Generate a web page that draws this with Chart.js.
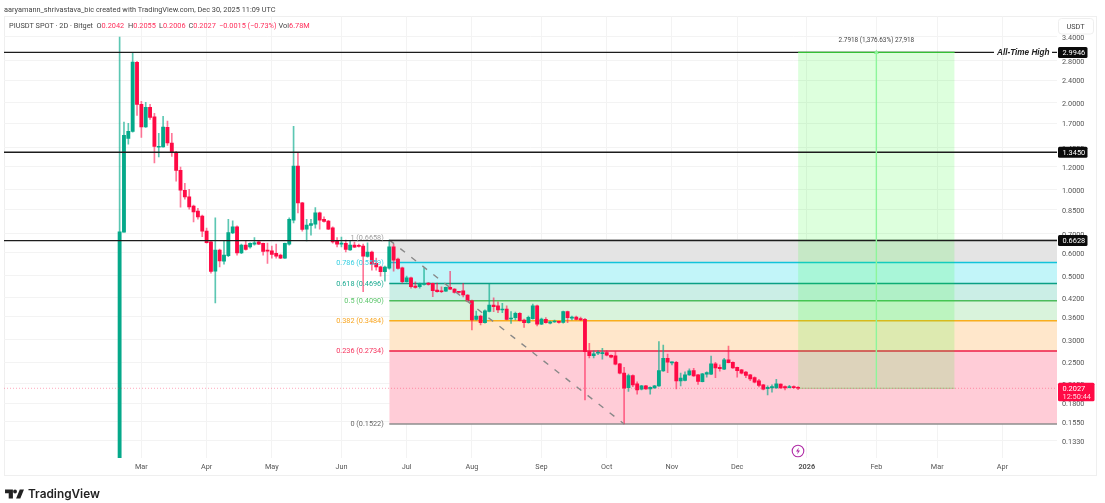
<!DOCTYPE html>
<html>
<head>
<meta charset="utf-8">
<title>PIUSDT</title>
<script src="https://cdn.jsdelivr.net/npm/chart.js@4/dist/chart.umd.min.js"></script>
<style>
    html, body { margin: 0; padding: 0; background: #fff; width: 1105px; height: 503px; overflow: hidden; }
    body { position: relative; font-family: Roboto, sans-serif; }
    canvas { position: absolute; left: 0; top: 0; }
    .panel { position: absolute; left: 4px; top: 16px; width: 1091px; height: 458px; border: 1px solid #efefef; }
    .txt { position: absolute; white-space: nowrap; font-size: 7.35px; line-height: 10px; color: #444; }
    .red { color: #ff2e5a; }
    .logo { position: absolute; left: 5px; top: 489px; }
    .logo-text { position: absolute; left: 28px; top: 485px; font: 600 11.8px/18px Inter, sans-serif; color: #222; }
    .bolt { position: absolute; left: 791px; top: 444px; }
</style>
</head>
<body>
<div class="panel"></div>
<canvas id="piChart" width="1105" height="503"></canvas>

<div class="txt" style="left:4px;top:4.5px">aaryamann_shrivastava_bic created with TradingView.com, Dec 30, 2025 11:09 UTC</div>
<div class="txt" style="left:9px;top:20.5px">PIUSDT SPOT · 2D · Bitget</div>
<div class="txt" style="left:96.5px;top:20.5px">O<span class="red">0.2042</span></div>
<div class="txt" style="left:128px;top:20.5px">H<span class="red">0.2055</span></div>
<div class="txt" style="left:159px;top:20.5px">L<span class="red">0.2006</span></div>
<div class="txt" style="left:188.5px;top:20.5px">C<span class="red">0.2027</span></div>
<div class="txt red" style="left:219px;top:20.5px">−0.0015 (−0.73%)</div>
<div class="txt" style="left:278.5px;top:20.5px">Vol<span class="red">6.78M</span></div>

<svg class="bolt" width="14" height="14" viewBox="0 0 14 14">
    <circle cx="7" cy="7" r="5.8" fill="#fff" stroke="#b02ca6" stroke-width="1.1"/>
    <path d="M7.8 3.6 5 7.6h1.9L6.2 10.4 9 6.4H7.1z" fill="#b02ca6"/>
</svg>

<svg class="logo" width="19" height="10" viewBox="0 0 36 19">
    <path d="M15 1H0v7h7v10h8zM29 18h-8L28 1h8zM19 8.5a3.7 3.7 0 1 0 0-7.4 3.7 3.7 0 0 0 0 7.4z" fill="#222"/>
</svg>
<div class="logo-text">TradingView</div>

<script>
    // Candles, 2 days each, oldest first
    const firstCandleDay = 49; // days since 1 Jan 2025
    const opens = [
        0.1, 0.7088, 1.504, 1.591, 2.764, 1.975, 1.647, 1.928, 1.786, 1.40,
        1.403, 1.644, 1.449, 1.345, 1.164, 0.992, 0.94, 0.873, 0.84, 0.807,
        0.715, 0.656, 0.5187, 0.6137, 0.562, 0.5875, 0.7048, 0.7395, 0.5997, 0.639,
        0.63, 0.6439, 0.656, 0.6475, 0.6137, 0.6103, 0.5978, 0.5897, 0.5755, 0.6439,
        0.78, 1.205, 0.896, 0.726, 0.7475, 0.7557, 0.827, 0.785, 0.774, 0.7336,
        0.6597, 0.6439, 0.6475, 0.615, 0.639, 0.6375, 0.6337, 0.583, 0.604, 0.5517,
        0.5369, 0.516, 0.5313, 0.63, 0.5711, 0.5326, 0.4762, 0.4917, 0.4604, 0.4575,
        0.4664, 0.4712, 0.4701, 0.4456, 0.442, 0.442, 0.4551, 0.4491, 0.4385, 0.4431,
        0.4281, 0.409, 0.3524, 0.3618, 0.343, 0.3757, 0.3953, 0.393, 0.3796, 0.3827,
        0.3533, 0.357, 0.3696, 0.3504, 0.343, 0.3545, 0.393, 0.339, 0.3524, 0.342,
        0.3449, 0.3468, 0.344, 0.3746, 0.3553, 0.3588, 0.3545, 0.3524, 0.272, 0.2634,
        0.2685, 0.2676, 0.2698, 0.2641, 0.2627, 0.2464, 0.2288, 0.2039, 0.2245, 0.21,
        0.2011, 0.2066, 0.2016, 0.2033, 0.2066, 0.233, 0.2579, 0.2484, 0.2498, 0.2151,
        0.2158, 0.2257, 0.2336, 0.2257, 0.2139, 0.227, 0.227, 0.2465, 0.2398, 0.2361,
        0.2545, 0.2498, 0.2398, 0.2349, 0.2306, 0.2257, 0.2208, 0.2151, 0.2084, 0.2021,
        0.2033, 0.2033, 0.2095, 0.2054, 0.2039, 0.2054, 0.2042
    ];
    const highs = [
        3.385, 1.714, 1.696, 2.978, 2.79, 2.023, 2.007, 1.975, 1.838, 1.566,
        1.794, 1.728, 1.566, 1.356, 1.195, 1.049, 1.0, 0.88, 0.858, 0.813,
        0.732, 0.66, 0.795, 0.619, 0.661, 0.785, 0.776, 0.745, 0.644, 0.661,
        0.651, 0.679, 0.66, 0.649, 0.649, 0.6336, 0.6439, 0.5945, 0.65, 0.795,
        1.656, 1.342, 0.90, 0.785, 0.785, 0.864, 0.832, 0.801, 0.78, 0.7395,
        0.679, 0.681, 0.6648, 0.661, 0.654, 0.644, 0.644, 0.651, 0.609, 0.5755,
        0.54, 0.54, 0.6658, 0.644, 0.5755, 0.536, 0.4984, 0.4948, 0.4762, 0.4712,
        0.5316, 0.473, 0.4712, 0.4712, 0.4575, 0.4565, 0.5175, 0.451, 0.44, 0.4701,
        0.43, 0.4115, 0.3766, 0.3647, 0.38, 0.4675, 0.4189, 0.4058, 0.4006, 0.3927,
        0.3746, 0.3736, 0.372, 0.3533, 0.3618, 0.3985, 0.3953, 0.356, 0.357, 0.3476,
        0.3504, 0.3476, 0.3766, 0.3766, 0.3618, 0.3618, 0.3588, 0.3553, 0.2908, 0.2735,
        0.2741, 0.2794, 0.2735, 0.2648, 0.272, 0.2475, 0.2399, 0.227, 0.2257, 0.2134,
        0.2075, 0.2075, 0.205, 0.2075, 0.2946, 0.2869, 0.2664, 0.2504, 0.2514, 0.2288,
        0.2312, 0.2367, 0.2379, 0.2266, 0.2284, 0.2312, 0.2625, 0.2494, 0.2444, 0.2579,
        0.2842, 0.2504, 0.2405, 0.2358, 0.232, 0.2266, 0.222, 0.218, 0.2092, 0.2066,
        0.2084, 0.218, 0.21, 0.2066, 0.2076, 0.2066, 0.2055
    ];
    const lows = [
        0.1, 0.7088, 1.434, 1.58, 1.808, 1.516, 1.64, 1.751, 1.234, 1.295,
        1.40, 1.422, 1.302, 1.066, 0.866, 0.923, 0.852, 0.77, 0.787, 0.683,
        0.649, 0.5105, 0.4016, 0.5369, 0.5487, 0.582, 0.70, 0.5897, 0.597, 0.6137,
        0.6236, 0.639, 0.641, 0.5897, 0.5517, 0.5755, 0.5755, 0.573, 0.574, 0.639,
        0.7636, 0.827, 0.7146, 0.661, 0.692, 0.732, 0.726, 0.768, 0.723, 0.649,
        0.63, 0.63, 0.6055, 0.612, 0.626, 0.6287, 0.4395, 0.58, 0.5229, 0.5229,
        0.4984, 0.4788, 0.527, 0.5187, 0.527, 0.4712, 0.475, 0.4527, 0.4527, 0.4527,
        0.4638, 0.4638, 0.4223, 0.4385, 0.4367, 0.4403, 0.4472, 0.435, 0.435, 0.4213,
        0.4048, 0.3235, 0.35, 0.3367, 0.342, 0.3736, 0.3746, 0.3715, 0.3715, 0.3504,
        0.3411, 0.3504, 0.3476, 0.3304, 0.342, 0.353, 0.3339, 0.3375, 0.342, 0.3395,
        0.3435, 0.342, 0.342, 0.343, 0.3504, 0.3504, 0.349, 0.1847, 0.2585, 0.2585,
        0.2655, 0.2559, 0.2627, 0.2585, 0.2444, 0.2276, 0.1522, 0.1975, 0.2055, 0.1934,
        0.2002, 0.2008, 0.1934, 0.2025, 0.2058, 0.232, 0.2299, 0.2444, 0.2016, 0.2066,
        0.2151, 0.2248, 0.2231, 0.209, 0.2134, 0.2215, 0.2261, 0.2208, 0.2325, 0.2351,
        0.2484, 0.2375, 0.2215, 0.2275, 0.2208, 0.2156, 0.2117, 0.2051, 0.2002, 0.1923,
        0.1965, 0.2025, 0.2025, 0.2002, 0.2033, 0.2025, 0.2006
    ];
    const closes = [
        0.711, 1.541, 1.591, 2.771, 1.975, 1.647, 1.928, 1.78, 1.411, 1.411,
        1.647, 1.449, 1.348, 1.164, 0.992, 0.94, 0.868, 0.834, 0.801, 0.7146,
        0.652, 0.5175, 0.6137, 0.5633, 0.5897, 0.7071, 0.7395, 0.5997, 0.639, 0.617,
        0.6475, 0.6507, 0.644, 0.6074, 0.6088, 0.5929, 0.5848, 0.5755, 0.6475, 0.785,
        1.205, 0.896, 0.724, 0.7497, 0.76, 0.827, 0.78, 0.772, 0.726, 0.656,
        0.6439, 0.6475, 0.617, 0.639, 0.6287, 0.632, 0.5848, 0.604, 0.5487, 0.5369,
        0.516, 0.5354, 0.63, 0.5665, 0.5297, 0.4762, 0.4917, 0.4575, 0.4555, 0.4701,
        0.4701, 0.4664, 0.443, 0.4396, 0.4396, 0.4551, 0.4491, 0.4374, 0.4374, 0.4281,
        0.4081, 0.3504, 0.3618, 0.343, 0.3775, 0.3953, 0.3898, 0.3796, 0.382, 0.3524,
        0.3545, 0.3696, 0.3485, 0.343, 0.358, 0.393, 0.3386, 0.3533, 0.343, 0.3457,
        0.3476, 0.344, 0.3746, 0.357, 0.3588, 0.3524, 0.3504, 0.272, 0.2634, 0.267,
        0.2698, 0.2698, 0.2641, 0.2599, 0.2459, 0.2288, 0.2029, 0.2245, 0.2084, 0.2002,
        0.2066, 0.2016, 0.2044, 0.2066, 0.2336, 0.2579, 0.2498, 0.2498, 0.2151, 0.22,
        0.2257, 0.233, 0.224, 0.2143, 0.2275, 0.2299, 0.2465, 0.2385, 0.2372, 0.2545,
        0.249, 0.2387, 0.2336, 0.2288, 0.2245, 0.2187, 0.2129, 0.2073, 0.2011, 0.2044,
        0.2054, 0.21, 0.2033, 0.2033, 0.2054, 0.2039, 0.2027
    ];

    // Axes
    const monthDays = [59, 89, 119, 151, 181, 211, 243, 273, 303, 333, 365, 397, 425, 455];
    const monthLabels = ['Mar', 'Apr', 'May', 'Jun', 'Jul', 'Aug', 'Sep', 'Oct', 'Nov', 'Dec', '2026', 'Feb', 'Mar', 'Apr'];
    const priceTicks = [3.4, 2.8, 2.4, 2.0, 1.7, 1.4, 1.2, 1.0, 0.85, 0.7, 0.6, 0.5, 0.42, 0.36, 0.3, 0.25, 0.21, 0.18, 0.155, 0.133];

    // Horizontal levels and the fibonacci retracement
    const levelPrices = [2.9946, 1.345, 0.6628];
    const fibRatios = [1, 0.786, 0.618, 0.5, 0.382, 0.236, 0];
    const fibPrices = [0.6658, 0.5559, 0.4696, 0.4090, 0.3484, 0.2734, 0.1522];
    const fibLineColors = ['#9a9a9a', '#12c3da', '#0a9f85', '#4dbb5c', '#f8ae1e', '#ee1c46', '#8e8e8e'];
    const fibFillColors = ['#e4e4e4', '#c2f5f9', '#cbeee6', '#d9f3dc', '#ffe7cb', '#ffccd7'];
    const fibTextColors = ['#a0a0a0', '#35cfe0', '#1aaa90', '#5cc66b', '#f8a520', '#f5325c', '#666'];

    const lastPrice = 0.2027;
    const fibStartDay = 173, fibEndDay = 281;
    const rangeStartDay = 361, rangeEndDay = 433, rangeMidDay = 397;

    const minDay = -4.17, maxDay = 480.07;
    const minPrice = 0.1159, maxPrice = 3.995;

    const upColor = '#05a98a', downColor = '#ff0a45';
    const upWick = 'rgba(5,169,138,0.65)', downWick = 'rgba(255,10,69,0.55)';

    const candleDays = closes.map((c, i) => firstCandleDay + i * 2);
    const isUp = closes.map((c, i) => c >= opens[i]);

    function hSegment(price, day0, day1, color, width, extra) {
        return Object.assign({
            type: 'line',
            data: [{ x: day0, y: price }, { x: day1, y: price }],
            borderColor: color,
            borderWidth: width,
            pointRadius: 0,
            tension: 0,
            fill: false
        }, extra);
    }

    const datasets = [];

    // fibonacci bands, each one filled down to the next level
    fibPrices.forEach((price, i) => {
        datasets.push(hSegment(price, fibStartDay, maxDay, 'transparent', 0, {
            order: 60,
            fill: i < fibFillColors.length ? '+1' : false,
            backgroundColor: fibFillColors[i]
        }));
    });
    fibPrices.forEach((price, i) => {
        datasets.push(hSegment(price, fibStartDay, maxDay, fibLineColors[i], 1.5, { order: 55 }));
    });

    // long position box from the last price up to the all time high
    datasets.push(hSegment(levelPrices[0], rangeStartDay, rangeEndDay, 'transparent', 0, {
        order: 50, fill: '+1', backgroundColor: 'rgba(30,255,30,0.15)'
    }));
    datasets.push(hSegment(lastPrice, rangeStartDay, rangeEndDay, 'rgba(60,190,60,0.5)', 0.8, { order: 50 }));
    datasets.push(hSegment(levelPrices[0], rangeStartDay, rangeEndDay, '#35c035', 1.2, { order: 5 }));
    datasets.push({
        type: 'line',
        data: [{ x: rangeMidDay, y: lastPrice }, { x: rangeMidDay, y: levelPrices[0] }],
        borderColor: '#8df59b',
        borderWidth: 1.4,
        pointRadius: [0, 3],
        pointStyle: 'triangle',
        pointBackgroundColor: '#8df59b',
        pointBorderWidth: 0,
        order: 4
    });

    // candles: wicks behind, bodies in front
    datasets.push({
        type: 'bar',
        data: candleDays.map((d, i) => ({ x: d, y: [lows[i], highs[i]] })),
        backgroundColor: isUp.map(up => up ? upWick : downWick),
        barThickness: 1,
        grouped: false,
        order: 40
    });
    datasets.push({
        type: 'bar',
        data: candleDays.map((d, i) => ({ x: d, y: [opens[i], closes[i]] })),
        backgroundColor: isUp.map(up => up ? upColor : downColor),
        barThickness: 3.2,
        minBarLength: 1,
        grouped: false,
        order: 30
    });

    // last price marker, retracement trend line and the black levels
    datasets.push(hSegment(lastPrice, minDay, maxDay, 'rgba(255,40,90,0.5)', 0.8, { order: 25, borderDash: [1, 2] }));
    datasets.push({
        type: 'line',
        data: [{ x: fibStartDay, y: fibPrices[0] }, { x: fibEndDay, y: fibPrices[6] }],
        borderColor: '#888',
        borderWidth: 1.4,
        borderDash: [6, 8],
        pointRadius: 0,
        order: 15
    });
    levelPrices.forEach(price => {
        datasets.push(hSegment(price, minDay, maxDay, '#1c1c1c', 1.3, { order: 10 }));
    });

    // Price tags and drawing labels on top of everything
    const overlay = {
        id: 'overlay',
        afterDraw(chart) {
            const c = chart.ctx;
            const y = chart.scales.y;
            const x = chart.scales.x;
            const axisX = chart.chartArea.right + 1;
            c.save();
            c.textBaseline = 'middle';

            // fibonacci labels left of the drawing
            c.font = '7.3px Roboto';
            c.textAlign = 'right';
            fibPrices.forEach((price, i) => {
                const dy = i === 0 ? -2 : 0.5;
                c.fillStyle = fibTextColors[i];
                c.fillText(fibRatios[i] + ' (' + price.toFixed(4) + ')', x.getPixelForValue(fibStartDay) - 5.5, y.getPixelForValue(price) + dy);
            });

            // range stats above the box
            c.textAlign = 'center';
            c.font = '6.4px Roboto';
            c.fillStyle = '#444';
            c.fillText('2.7918 (1,376.63%) 27,918', x.getPixelForValue(rangeMidDay), y.getPixelForValue(levelPrices[0]) - 12);

            // all time high caption sits in a gap of the line
            const athY = y.getPixelForValue(levelPrices[0]);
            c.fillStyle = '#fff';
            c.fillRect(994, athY - 3, 58, 6);
            c.font = 'italic bold 8.2px "Liberation Sans"';
            c.textAlign = 'left';
            c.fillStyle = '#222';
            c.fillText('All-Time High', 997, athY + 0.5);

            // USDT button
            c.fillStyle = '#fff';
            c.strokeStyle = '#eee';
            c.beginPath();
            c.roundRect(1058.5, 18.5, 35, 15.5, 3);
            c.fill();
            c.stroke();
            c.font = '7.3px Roboto';
            c.fillStyle = '#444';
            c.textAlign = 'center';
            c.fillText('USDT', 1075.5, 27);

            // black level tags
            c.textAlign = 'left';
            levelPrices.forEach(price => {
                const py = y.getPixelForValue(price);
                c.fillStyle = '#0b0b0b';
                c.beginPath();
                c.roundRect(axisX, py - 5.5, 29.5, 11, 1.5);
                c.fill();
                c.fillStyle = '#fff';
                c.font = '7.4px Roboto';
                c.fillText(price.toFixed(4), axisX + 4.5, py + 0.5);
            });

            // last price tag with the bar countdown
            const lastY = y.getPixelForValue(lastPrice);
            c.fillStyle = '#ff0a45';
            c.beginPath();
            c.roundRect(axisX, lastY - 5.5, 36.5, 18.5, 1.5);
            c.fill();
            c.font = '7.4px Roboto';
            c.fillStyle = '#fff';
            c.fillText(lastPrice.toFixed(4), axisX + 4.5, lastY + 0.5);
            c.fillStyle = '#ffd5de';
            c.fillText('12:50:44', axisX + 4.5, lastY + 8.8);
            c.restore();
        }
    };

    const axisFont = { family: 'Roboto', size: 7.3 };

    new Chart(document.getElementById('piChart').getContext('2d'), {
        data: { datasets: datasets },
        plugins: [overlay],
        options: {
            responsive: false,
            animation: false,
            events: [],
            layout: { padding: { left: 4, top: 16.5, right: 9, bottom: 28 } },
            plugins: { legend: { display: false }, tooltip: { enabled: false } },
            scales: {
                x: {
                    type: 'linear',
                    bounds: 'data',
                    offset: false,
                    min: minDay,
                    max: maxDay,
                    grid: { color: '#f3f3f3', lineWidth: 1, offset: false, drawTicks: false },
                    border: { display: false },
                    afterBuildTicks: scale => { scale.ticks = monthDays.map(d => ({ value: d })); },
                    afterFit: scale => { scale.height = 17; },
                    ticks: {
                        autoSkip: false,
                        maxRotation: 0,
                        padding: 5,
                        color: '#555',
                        font: ctx => ctx.index === 10 ? { family: 'Roboto', size: 7.3, weight: 'bold' } : axisFont,
                        callback: value => monthLabels[monthDays.indexOf(value)]
                    }
                },
                y: {
                    type: 'logarithmic',
                    position: 'right',
                    bounds: 'data',
                    beginAtZero: false,
                    min: minPrice,
                    max: maxPrice,
                    grid: { color: '#f3f3f3', lineWidth: 1, drawTicks: false },
                    border: { display: false },
                    afterBuildTicks: scale => { scale.ticks = priceTicks.map(v => ({ value: v })); },
                    afterFit: scale => { scale.width = 39; },
                    ticks: {
                        autoSkip: false,
                        padding: 5,
                        labelOffset: 1.5,
                        color: '#555',
                        font: axisFont,
                        callback: value => value.toFixed(4)
                    }
                }
            }
        }
    });
</script>
</body>
</html>
